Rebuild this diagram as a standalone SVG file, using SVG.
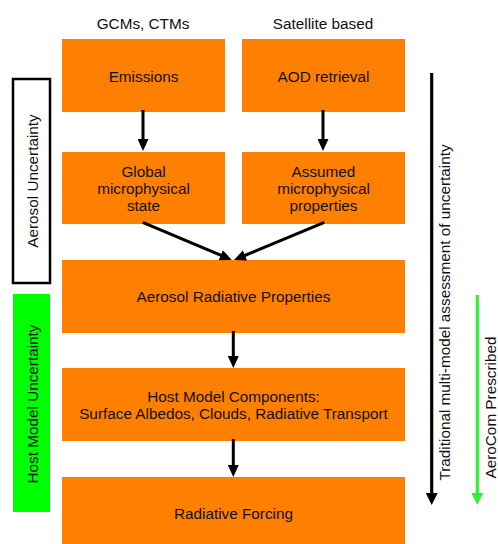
<svg xmlns="http://www.w3.org/2000/svg" width="498" height="544" viewBox="0 0 498 544">
<style>
.box{fill:#ff7f00;}
.t{font-family:"Liberation Sans",Arial,sans-serif;font-size:15.3px;fill:#111;text-anchor:middle;}
.c{stroke:#000;stroke-width:3;fill:none;}
</style>
<defs>
<marker id="ah" markerUnits="userSpaceOnUse" markerWidth="12" markerHeight="11" refX="3" refY="5.5" orient="auto" viewBox="0 0 12 11">
<path d="M0,0 L12,5.5 L0,11 z" fill="#000"/>
</marker>
<marker id="bh" markerUnits="userSpaceOnUse" markerWidth="12" markerHeight="12" refX="2" refY="6" orient="auto" viewBox="0 0 12 12">
<path d="M0,0 L12,6 L0,12 z" fill="#000"/>
</marker>
<marker id="gh" markerUnits="userSpaceOnUse" markerWidth="12" markerHeight="12" refX="2" refY="6" orient="auto" viewBox="0 0 12 12">
<path d="M0,0 L12,6 L0,12 z" fill="#33ee33"/>
</marker>
</defs>
<rect width="498" height="544" fill="#fff"/>

<text class="t" x="143" y="28.5">GCMs, CTMs</text>
<text class="t" x="323" y="28.5">Satellite based</text>

<g id="aerosol-uncertainty">
<rect x="13" y="79" width="37" height="204" fill="#fff" stroke="#000" stroke-width="2.5"/>
<text class="t" transform="translate(38,181) rotate(-90)">Aerosol Uncertainty</text>
</g>
<g id="host-uncertainty">
<rect x="13" y="294" width="37" height="218" fill="#00ff00"/>
<text class="t" transform="translate(38,404) rotate(-90)">Host Model Uncertainty</text>
</g>

<g id="emissions">
<rect class="box" x="62" y="39" width="163" height="73"/>
<text class="t" x="143.5" y="82">Emissions</text>
</g>
<g id="aod">
<rect class="box" x="242" y="39" width="163" height="73"/>
<text class="t" x="323.5" y="82">AOD retrieval</text>
</g>
<g id="global">
<rect class="box" x="62" y="152" width="163" height="72"/>
<text class="t" x="143.5" y="176.5">Global</text>
<text class="t" x="143.5" y="193.5">microphysical</text>
<text class="t" x="143.5" y="210.5">state</text>
</g>
<g id="assumed">
<rect class="box" x="242" y="152" width="163" height="72"/>
<text class="t" x="323.5" y="176.5">Assumed</text>
<text class="t" x="323.5" y="193.5">microphysical</text>
<text class="t" x="323.5" y="210.5">properties</text>
</g>
<g id="arp">
<rect class="box" x="62" y="260" width="343" height="73"/>
<text class="t" x="233.5" y="302">Aerosol Radiative Properties</text>
</g>
<g id="host">
<rect class="box" x="62" y="368" width="343" height="73"/>
<text class="t" x="233.5" y="401.5">Host Model Components:</text>
<text class="t" x="233.5" y="418.5">Surface Albedos, Clouds, Radiative Transport</text>
</g>
<g id="forcing">
<rect class="box" x="62" y="477" width="343" height="67"/>
<text class="t" x="233.5" y="519">Radiative Forcing</text>
</g>

<g id="connectors">
<line class="c" x1="143" y1="110" x2="143" y2="142" marker-end="url(#ah)"/>
<line class="c" x1="323" y1="110" x2="323" y2="142" marker-end="url(#ah)"/>
<line class="c" x1="142.7" y1="222.3" x2="223.5" y2="256.4" marker-end="url(#ah)"/>
<line class="c" x1="324.3" y1="222.3" x2="242.3" y2="256.5" marker-end="url(#ah)"/>
<line class="c" x1="233.3" y1="331" x2="233.3" y2="359" marker-end="url(#ah)"/>
<line class="c" x1="233.3" y1="439" x2="233.3" y2="468" marker-end="url(#ah)"/>
<line x1="431.7" y1="73" x2="431.7" y2="495" stroke="#000" stroke-width="3.2" marker-end="url(#bh)"/>
<line x1="477.3" y1="295" x2="477.3" y2="495" stroke="#33ee33" stroke-width="3.2" marker-end="url(#gh)"/>
</g>

<text class="t" transform="translate(450,312.5) rotate(-90)">Traditional multi-model assessment of uncertainty</text>
<text class="t" transform="translate(496,407.5) rotate(-90)">AeroCom Prescribed</text>
</svg>
